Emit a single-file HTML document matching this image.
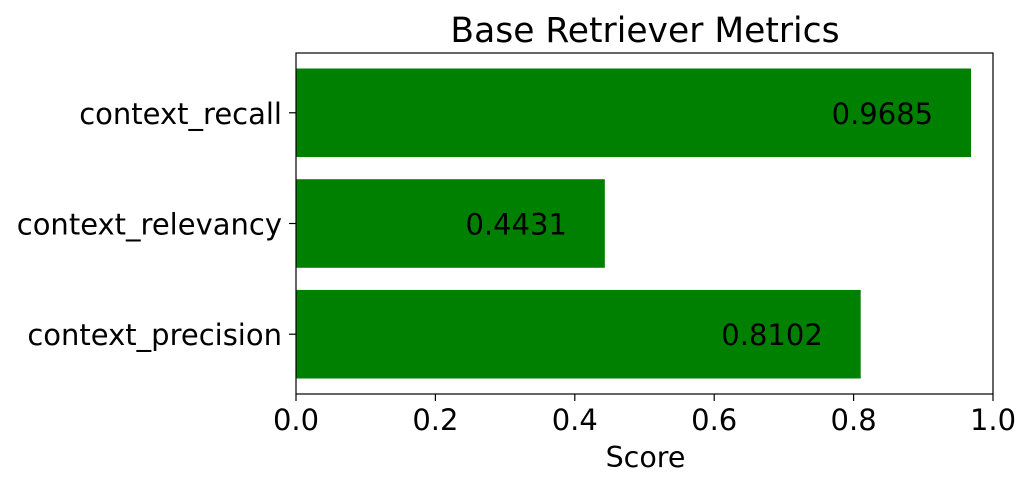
<!DOCTYPE html>
<html><head><meta charset="utf-8"><style>
html,body{margin:0;padding:0;background:#fff;}
svg{display:block;font-family:"DejaVu Sans","Liberation Sans",sans-serif;}
</style></head><body>
<svg id="chart" width="1031" height="488" viewBox="0 0 1031 488" xmlns="http://www.w3.org/2000/svg">
<text x="645" y="42" font-size="34.5" text-anchor="middle" fill="#000">Base Retriever Metrics</text>
<g id="bars"></g>
<g id="axes"></g>
<text x="645.5" y="467" font-size="28.5" text-anchor="middle" fill="#000">Score</text>
</svg>
<script>
const categories = ["context_precision", "context_relevancy", "context_recall"];
const scores = [0.8102, 0.4431, 0.9685];
const valueLabels = ["0.8102", "0.4431", "0.9685"];
const xTicks = [0, 0.2, 0.4, 0.6, 0.8, 1.0];
const xTickLabels = ["0.0", "0.2", "0.4", "0.6", "0.8", "1.0"];

const L = 296, R = 993, T = 53, B = 394;
const yMin = -0.54, yMax = 2.54;
const FS = 29;
const xs = v => L + v * (R - L);
const ys = v => B - (v - yMin) / (yMax - yMin) * (B - T);
const NS = "http://www.w3.org/2000/svg";
const bars = document.getElementById('bars');
const axes = document.getElementById('axes');
function mk(tag, attrs, parent, text) {
  const e = document.createElementNS(NS, tag);
  for (const k in attrs) e.setAttribute(k, attrs[k]);
  if (text !== undefined) e.textContent = text;
  parent.appendChild(e);
  return e;
}
categories.forEach((c, i) => {
  const y0 = ys(i + 0.4), y1 = ys(i - 0.4);
  const r = mk('rect', {x: xs(0), y: y0, width: xs(scores[i]) - xs(0), height: y1 - y0, fill: '#008000'}, bars);
  
  
  const t = mk('text', {x: xs(scores[i] - 0.2), y: ys(i) + 11, 'font-size': FS, fill: '#000'}, bars, valueLabels[i]);
  
  
  const tk = mk('line', {x1: L - 7, x2: L, y1: ys(i), y2: ys(i), stroke: '#000', 'stroke-width': 1.2}, axes);
  
  
  const tl = mk('text', {x: L - 14, y: ys(i) + 11, 'font-size': FS, 'text-anchor': 'end', fill: '#000'}, axes, c);
  
  
});
xTicks.forEach((v, i) => {
  const tk = mk('line', {x1: xs(v), x2: xs(v), y1: B, y2: B + 7, stroke: '#000', 'stroke-width': 1.2}, axes);
  
  
  const tl = mk('text', {x: xs(v), y: B + 36, 'font-size': FS, 'text-anchor': 'middle', fill: '#000'}, axes, xTickLabels[i]);
  
  
});
const frame = mk('rect', {x: L, y: T, width: R - L, height: B - T, fill: 'none', stroke: '#000', 'stroke-width': 1.2}, axes);


</script>
</body></html>
